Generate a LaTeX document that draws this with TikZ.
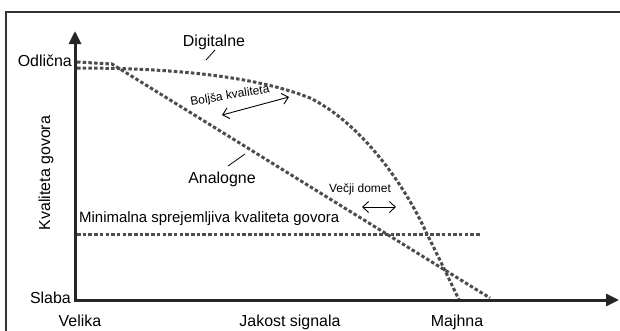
\documentclass[tikz,border=0pt]{standalone}
\usepackage{fontspec}
\setmainfont{Liberation Sans}
\usetikzlibrary{arrows.meta}
\begin{document}
\begin{tikzpicture}[x=1bp,y=-1bp,
  axis/.style={line width=3bp,draw=black!85,-{Triangle[length=13bp,width=12bp]}},
  curve/.style={line width=3bp,draw=black!70,dash pattern=on 3.5bp off 2.2bp},
  lbl/.style={inner sep=0pt,font=\fontsize{16}{18}\selectfont},
  small/.style={inner sep=0pt,font=\fontsize{12}{14}\selectfont},
  dbl/.style={line width=0.9bp,{Straight Barb[length=6bp,width=11bp]}-{Straight Barb[length=6bp,width=11bp]}},
  leader/.style={line width=0.8bp}]
\useasboundingbox (0,0) rectangle (620,330);
\fill[white] (0,0) rectangle (620,330);
% frame
\draw[line width=1.4bp,black!80] (6,331) -- (6,12) -- (621,12);
% coordinates
\coordinate (O) at (75,300);
\coordinate (Ytip) at (75,31);
\coordinate (Xtip) at (619,300);
% curves
\coordinate (d0) at (77,68);
\coordinate (d2) at (310,98);
\coordinate (d4) at (427,234);
\coordinate (d5) at (460,302);
\draw[curve] (d0) .. controls (160,68) and (250,74) .. (d2)
  .. controls (355,120) and (400,175) .. (d4)
  .. controls (440,260) and (452,285) .. (d5);
\coordinate (a0) at (77,62);
\coordinate (a1) at (112,64);
\coordinate (a2) at (490,298);
\draw[curve] (a0) -- (a1) -- (a2);
\coordinate (m0) at (77,234);
\coordinate (m1) at (481,234);
\draw[curve] (m0) -- (m1);
% axes
\draw[axis] (O) -- (Ytip);
\draw[axis] ([xshift=-1.5bp]O) -- (Xtip);
% labels
\node[lbl,anchor=east] (odl) at (72,61) {Odlična};
\node[lbl,anchor=east] (sla) at (71,298) {Slaba};
\node[lbl,rotate=90] (kg) at (46,173) {Kvaliteta govora};
\node[lbl,anchor=base] (vel) at (80,326) {Velika};
\node[lbl,anchor=base] (jak) at (290,326) {Jakost signala};
\node[lbl,anchor=base] (maj) at (457,326) {Majhna};
\node[lbl] (dig) at (214,42) {Digitalne};
\node[lbl] (ana) at (222,179) {Analogne};
\node[lbl,anchor=west,font=\fontsize{15}{17}\selectfont] (min) at (79,219) {Minimalna sprejemljiva kvaliteta govora};
\node[small,rotate=9] (bol) at (230,96) {Boljša kvaliteta};
\node[small] (vec) at (360,189) {Večji domet};
% leaders
\coordinate (dl1) at (206,60);
\coordinate (dl2) at (215,50);
\draw[leader] (dl1) -- (dl2);
\coordinate (al1) at (228,166);
\coordinate (al2) at (245,154);
\draw[leader] (al1) -- (al2);
% double arrows
\coordinate (b1) at (222,115);
\coordinate (b2) at (289,97);
\draw[dbl] (b1) -- (b2);
\coordinate (v1) at (362,207);
\coordinate (v2) at (396,207);
\draw[dbl] (v1) -- (v2);
\end{tikzpicture}
\end{document}
